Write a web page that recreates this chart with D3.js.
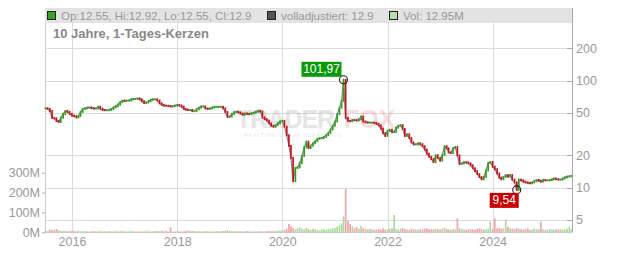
<!DOCTYPE html>
<html>
<head>
<meta charset="utf-8">
<script src="https://cdn.jsdelivr.net/npm/d3@7"></script>
<style>
  body { margin: 0; background: #fff; }
  svg { display: block; font-family: "Liberation Sans", Arial, sans-serif; }
</style>
</head>
<body>
<svg id="chart"></svg>
<script>
// half-month closes (1st and 16th of each month)
var close2015 = [55.3, 54.5, 52.0, 44.9, 44.4, 42.1, 41.2, 45.1, 48.9, 52.2, 51.1, 48.9];
var close2016 = [47.2, 46.6, 45.4, 46.9, 51.1, 54.5, 55.3, 55.9, 56.3, 55.4, 54.9, 55.1, 57.0, 54.7, 53.3, 53.0, 53.0, 53.3, 54.5, 56.4, 57.9, 59.9, 63.0, 65.2];
var close2017 = [64.8, 65.0, 65.3, 67.0, 67.6, 67.6, 68.3, 66.9, 64.3, 61.8, 62.7, 64.5, 66.2, 67.0, 67.0, 65.3, 61.4, 59.4, 58.5, 58.3, 58.0, 57.4, 58.0, 58.6];
var close2018 = [59.3, 58.6, 57.1, 54.4, 53.7, 53.3, 53.3, 52.0, 52.2, 54.1, 55.9, 57.5, 57.5, 55.0, 54.5, 55.1, 56.1, 56.9, 56.9, 57.0, 57.0, 55.3, 51.1, 45.9];
var close2019 = [46.4, 48.9, 50.9, 51.3, 50.5, 49.3, 48.1, 49.4, 48.9, 48.7, 49.7, 50.1, 51.2, 52.4, 51.5, 45.4, 43.7, 42.3, 39.9, 38.0, 37.1, 38.4, 40.0, 41.6];
var close2020 = [42.1, 37.2, 30.9, 24.6, 19.0, 11.5, 15.3, 15.5, 17.0, 19.8, 23.8, 26.9, 23.5, 24.7, 26.0, 27.2, 28.6, 29.0, 29.1, 29.8, 31.0, 32.6, 35.0, 37.9];
var close2021 = [41.6, 48.4, 55.9, 64.8, 101.97, 44.9, 42.1, 41.8, 42.8, 42.7, 42.5, 43.5, 46.2, 41.6, 40.9, 40.6, 40.6, 40.6, 40.3, 39.5, 38.2, 35.7, 32.4, 30.5];
var close2022 = [33.9, 34.8, 33.1, 33.3, 36.4, 37.8, 38.4, 35.4, 30.5, 31.6, 29.2, 26.5, 25.4, 25.4, 26.0, 25.5, 24.4, 22.7, 20.8, 19.5, 18.5, 17.4, 20.1, 19.0];
var close2023 = [17.9, 20.2, 24.4, 23.3, 21.4, 21.1, 23.4, 24.0, 20.0, 16.7, 16.9, 17.3, 17.2, 16.9, 16.2, 15.2, 14.3, 13.4, 12.6, 12.0, 12.6, 14.5, 17.0, 17.4];
var close2024 = [15.7, 14.9, 13.6, 12.4, 12.0, 12.6, 13.1, 12.7, 13.1, 11.9, 11.2, 9.54, 11.9, 11.7, 11.4, 11.2, 11.1, 11.0, 11.2, 11.5, 11.8, 11.6, 11.4, 11.8];
var close2025 = [11.7, 11.7, 11.8, 12.0, 12.2, 12.0, 11.9, 11.9, 12.2, 12.5, 12.7, 12.8, 12.9];

// daily volume in millions, same half-month steps
var vol2015 = [8, 6, 14, 10, 12, 16, 9, 7, 6, 8, 5, 6];
var vol2016 = [7, 6, 5, 8, 6, 5, 6, 5, 4, 5, 6, 5, 5, 6, 4, 5, 5, 6, 4, 5, 7, 5, 5, 6];
var vol2017 = [5, 4, 5, 6, 5, 4, 5, 4, 4, 5, 5, 6, 4, 5, 6, 7, 5, 8, 5, 6, 4, 25, 4, 5];
var vol2018 = [5, 6, 4, 5, 6, 8, 8, 7, 6, 5, 5, 4, 5, 6, 5, 5, 4, 5, 6, 5, 5, 6, 8, 10];
var vol2019 = [7, 6, 5, 6, 5, 5, 4, 5, 6, 5, 5, 4, 5, 6, 5, 5, 4, 5, 6, 5, 7, 6, 8, 9];
var vol2020 = [10, 12, 18, 42, 30, 22, 15, 20, 25, 18, 14, 22, 16, 12, 18, 14, 12, 10, 14, 16, 12, 18, 15, 20];
var vol2021 = [22, 28, 35, 45, 80, 218, 58, 42, 30, 22, 25, 18, 32, 20, 16, 14, 18, 15, 12, 14, 16, 12, 20, 14];
var vol2022 = [15, 18, 20, 87, 16, 14, 18, 22, 16, 14, 12, 18, 15, 14, 12, 16, 14, 18, 20, 15, 16, 14, 18, 16];
var vol2023 = [14, 18, 22, 16, 14, 12, 16, 15, 70, 20, 18, 14, 12, 16, 15, 14, 12, 18, 20, 16, 15, 14, 18, 53];
var vol2024 = [16, 70, 20, 22, 18, 20, 65, 28, 20, 18, 16, 22, 18, 15, 14, 16, 20, 12, 14, 18, 16, 14, 53, 15];
var vol2025 = [12, 14, 16, 14, 12, 15, 14, 16, 12, 14, 18, 28, 16];

var years = [2015, 2016, 2017, 2018, 2019, 2020, 2021, 2022, 2023, 2024, 2025];
var closesByYear = [close2015, close2016, close2017, close2018, close2019, close2020, close2021, close2022, close2023, close2024, close2025];
var volsByYear = [vol2015, vol2016, vol2017, vol2018, vol2019, vol2020, vol2021, vol2022, vol2023, vol2024, vol2025];
var firstMonth = [6, 0, 0, 0, 0, 0, 0, 0, 0, 0, 0];

var priceTicks = [5, 10, 20, 50, 100, 200];
var volTicks = [0, 100, 200, 300];
var yearTicks = [2016, 2018, 2020, 2022, 2024];
var legendText = ["Op:12.55, Hi:12.92, Lo:12.55, Cl:12.9", "volladjustiert: 12.9", "Vol: 12.95M"];
var title = "10 Jahre, 1-Tages-Kerzen";

var width = 632;
var height = 253;
var green = "#2f9e1f";
var red = "#c8141e";

var data = [];
years.forEach(function (y, yi) {
  closesByYear[yi].forEach(function (c, i) {
    data.push({
      date: new Date(y, firstMonth[yi] + Math.floor(i / 2), i % 2 ? 16 : 1),
      close: c,
      vol: volsByYear[yi][i]
    });
  });
});
data.forEach(function (d, i) {
  d.open = i > 0 ? data[i - 1].close : d.close;
  d.up = d.close >= d.open;
});

var svg = d3.select("#chart").attr("width", width).attr("height", height);

var x = d3.scaleTime().domain([new Date(2015, 5, 28), new Date(2025, 6, 5)]).range([45, 572]);
var y = d3.scaleLog().domain([10, 100]).range([187.7, 80.7]);
var yVol = d3.scaleLinear().domain([0, 300]).range([232.3, 172.7]);
var plotTop = 23, plotBottom = 232.3;

// header band
svg.append("rect").attr("x", 45).attr("y", 8).attr("width", 527).attr("height", 15).attr("fill", "#e3e3e3");
var legendX = [47, 267, 389];
var legendFill = ["#3aa02a", "#555", "#b5e0a8"];
legendX.forEach(function (lx, i) {
  svg.append("rect").attr("x", lx + 0.5).attr("y", 11.5).attr("width", 8).attr("height", 8)
    .attr("fill", legendFill[i]).attr("stroke", "#222").attr("stroke-width", 1);
  svg.append("text").attr("x", lx + 14).attr("y", 20).attr("font-size", 11.5).attr("fill", "#999").text(legendText[i]);
});

// grid
var grid = svg.append("g");
grid.selectAll("line.h").data(priceTicks).enter().append("line")
  .attr("x1", 45).attr("x2", 572).attr("y1", function (d) { return Math.round(y(d)) + 0.5; })
  .attr("y2", function (d) { return Math.round(y(d)) + 0.5; })
  .attr("stroke", "#dcdcdc");
grid.selectAll("line.v").data(yearTicks).enter().append("line")
  .attr("x1", function (d) { return Math.round(x(new Date(d, 0, 1))) + 0.5; })
  .attr("x2", function (d) { return Math.round(x(new Date(d, 0, 1))) + 0.5; })
  .attr("y1", plotTop).attr("y2", plotBottom).attr("stroke", "#dcdcdc");
svg.append("line").attr("x1", 45.5).attr("x2", 45.5).attr("y1", plotTop).attr("y2", plotBottom).attr("stroke", "#ccc");
svg.append("line").attr("x1", 45).attr("x2", 572).attr("y1", 232.5).attr("y2", 232.5).attr("stroke", "#ccc");

// watermark
var wm = svg.append("g").attr("opacity", 0.16);
wm.append("text").attr("x", 236).attr("y", 128).attr("font-size", 25).attr("font-weight", "bold")
  .attr("fill", "#666").attr("letter-spacing", -1).text("TRADER");
wm.append("text").attr("x", 344).attr("y", 128).attr("font-size", 25).attr("font-weight", "bold")
  .attr("fill", "#e0303a").text("FOX");
wm.append("text").attr("x", 244).attr("y", 137).attr("font-size", 5).attr("fill", "#666")
  .attr("letter-spacing", 1).text("REALTIME STOCK SCREENING");

// volume bars
var bw = 1.7;
svg.append("g").selectAll("rect").data(data).enter().append("rect")
  .attr("x", function (d) { return x(d.date) - bw / 2; })
  .attr("y", function (d) { return yVol(d.vol); })
  .attr("width", bw)
  .attr("height", function (d) { return yVol(0) - yVol(d.vol); })
  .attr("fill", function (d) { return d.up ? "#a9dc9c" : "#f2a3ab"; });

// adjusted line
svg.append("path").datum(data)
  .attr("d", d3.line().x(function (d) { return x(d.date); }).y(function (d) { return y(d.close); }))
  .attr("fill", "none").attr("stroke", "#8a8a8a").attr("stroke-width", 1.2);

// candles
svg.append("g").selectAll("rect").data(data).enter().append("rect")
  .attr("x", function (d) { return x(d.date) - bw / 2; })
  .attr("y", function (d) { return Math.min(y(d.open), y(d.close)) - 1; })
  .attr("width", bw)
  .attr("height", function (d) { return Math.abs(y(d.open) - y(d.close)) + 2; })
  .attr("fill", function (d) { return d.up ? green : red; });

// right price axis
var axisR = svg.append("g").attr("transform", "translate(572,0)")
  .call(d3.axisRight(y).tickValues(priceTicks).tickFormat(d3.format("d")).tickSize(0).tickPadding(4));
axisR.select(".domain").remove();
svg.append("line").attr("x1", 572.5).attr("x2", 572.5).attr("y1", 8).attr("y2", plotBottom).attr("stroke", "#aaa");
axisR.selectAll("text").attr("font-size", 12.5).attr("fill", "#999").attr("font-family", "Liberation Sans, Arial");
svg.append("g").selectAll("line").data(priceTicks).enter().append("line")
  .attr("x1", 567).attr("x2", 572).attr("y1", function (d) { return Math.round(y(d)) + 0.5; })
  .attr("y2", function (d) { return Math.round(y(d)) + 0.5; }).attr("stroke", "#aaa");

// left volume axis
var axisL = svg.append("g").attr("transform", "translate(45,0)")
  .call(d3.axisLeft(yVol).tickValues(volTicks).tickFormat(function (d) { return d + "M"; }).tickSize(3).tickPadding(2));
axisL.select(".domain").remove();
axisL.selectAll("line").attr("stroke", "#aaa");
axisL.selectAll("text").attr("font-size", 12.5).attr("fill", "#999").attr("font-family", "Liberation Sans, Arial");

// bottom year axis
var axisB = svg.append("g").attr("transform", "translate(0,232)")
  .call(d3.axisBottom(x).tickValues(yearTicks.map(function (d) { return new Date(d, 0, 1); }))
    .tickFormat(d3.timeFormat("%Y")).tickSize(0).tickPadding(5));
axisB.select(".domain").remove();
axisB.selectAll("text").attr("font-size", 12.5).attr("fill", "#999").attr("font-family", "Liberation Sans, Arial");

// title
svg.append("text").attr("x", 53).attr("y", 38).attr("font-size", 13).attr("font-weight", "bold")
  .attr("fill", "#888").text(title);

// min / max markers
var fmt = function (v) { return d3.format(".2f")(v).replace(".", ","); };
var maxD = d3.greatest(data, function (d) { return d.close; });
var minD = d3.least(data, function (d) { return d.close; });
[maxD, minD].forEach(function (d) {
  svg.append("circle").attr("cx", x(d.date)).attr("cy", y(d.close)).attr("r", 4)
    .attr("fill", "none").attr("stroke", "#222").attr("stroke-width", 1.1);
});
var mx = x(maxD.date), my = y(maxD.close);
svg.append("rect").attr("x", mx - 42).attr("y", my - 18).attr("width", 40).attr("height", 15).attr("fill", "#0b9a0b");
svg.append("text").attr("x", mx - 22).attr("y", my - 6.5).attr("text-anchor", "middle").attr("font-size", 12)
  .attr("fill", "#fff").text(fmt(maxD.close));
var nx = x(minD.date), ny = y(minD.close);
svg.append("rect").attr("x", nx - 27).attr("y", ny + 3).attr("width", 29).attr("height", 15).attr("fill", "#cc0000");
svg.append("text").attr("x", nx - 12.5).attr("y", ny + 14.5).attr("text-anchor", "middle").attr("font-size", 12)
  .attr("fill", "#fff").text(fmt(minD.close));
</script>
</body>
</html>
